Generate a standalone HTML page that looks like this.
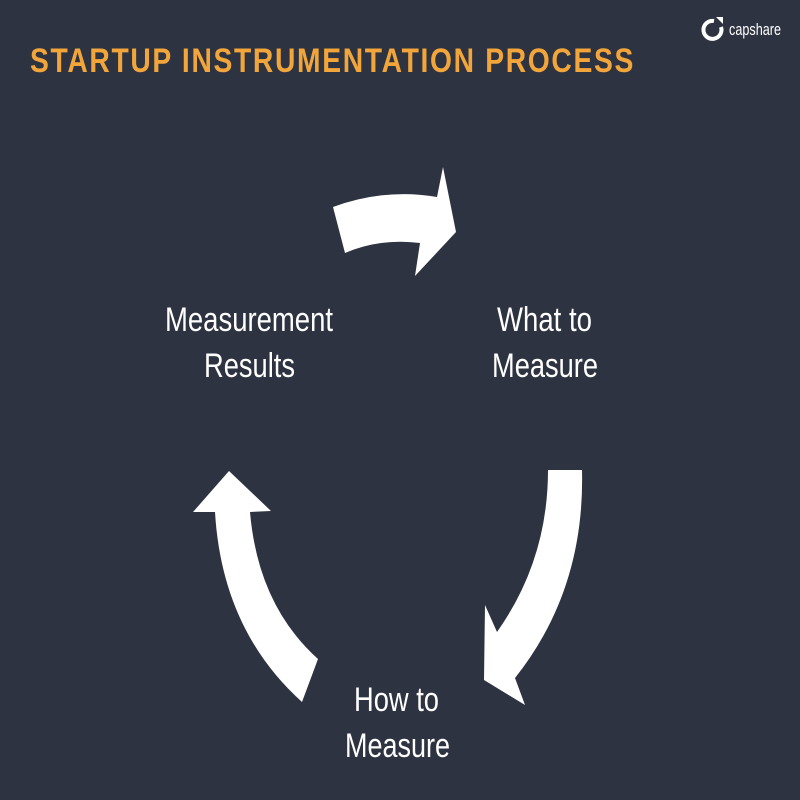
<!DOCTYPE html>
<html><head><style>
html,body{margin:0;padding:0;background:#2d3340;}
svg{display:block}
</style></head><body>
<svg width="800" height="800" viewBox="0 0 800 800" xmlns="http://www.w3.org/2000/svg">
<rect width="800" height="800" fill="#2d3340"/>
<text x="30" y="72" font-family="Liberation Sans, sans-serif" font-weight="bold" font-size="34" fill="#f2a53a" textLength="605" lengthAdjust="spacingAndGlyphs" letter-spacing="2">STARTUP INSTRUMENTATION PROCESS</text>
<!-- logo -->
<g fill="none" stroke="#fff" stroke-width="4">
<path d="M714 21 A9 9 0 1 0 721 27"/>
</g>
<path d="M716 17 L723 17 L723 24 Z" fill="#fff"/>
<text x="729" y="35" font-family="Liberation Sans, sans-serif" font-size="17" fill="#fff" textLength="52" lengthAdjust="spacingAndGlyphs">capshare</text>
<g fill="#fff">
<!-- top arrow -->
<path d="M333 207 Q385 188 437 197 L443 167 L456 232 L415 276 L420 243 Q380 238 345 253 Z"/>
<!-- right arrow -->
<path d="M548 470 L582 470 Q585 590 515 678 L525 705 L484 680 L485 605 L497 632 Q548 560 548 470 Z"/>
<!-- left arrow -->
<path d="M229 471 L271 511 L250 512 Q258 605 318 659 L302 702 Q222 630 215 512 L193 512 Z"/>
</g>
<g font-family="Liberation Sans, sans-serif" font-size="34" fill="#fff" lengthAdjust="spacingAndGlyphs">
<text x="165" y="331" textLength="168" lengthAdjust="spacingAndGlyphs">Measurement</text>
<text x="204" y="377" textLength="91" lengthAdjust="spacingAndGlyphs">Results</text>
<text x="497" y="331" textLength="95" lengthAdjust="spacingAndGlyphs">What to</text>
<text x="492" y="377" textLength="106" lengthAdjust="spacingAndGlyphs">Measure</text>
<text x="354" y="711" textLength="85" lengthAdjust="spacingAndGlyphs">How to</text>
<text x="345" y="757" textLength="105" lengthAdjust="spacingAndGlyphs">Measure</text>
</g>
</svg>
</body></html>
